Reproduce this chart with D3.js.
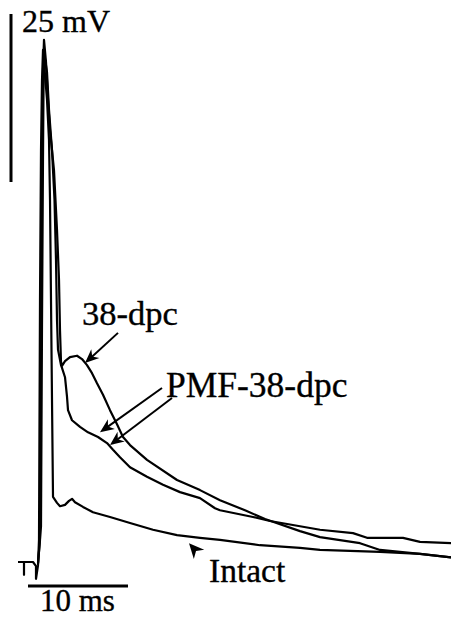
<!DOCTYPE html>
<html>
<head>
<meta charset="utf-8">
<script src="https://cdn.jsdelivr.net/npm/d3@7/dist/d3.min.js"></script>
<style>
  html, body { margin: 0; padding: 0; background: #fff; }
  svg { display: block; }
  text { font-family: "Liberation Serif", "Times New Roman", serif; fill: #000; stroke: #000; stroke-width: 0.35px; }
</style>
</head>
<body>
<script>
// Action potentials recorded after stimulation: time in ms, membrane potential in mV
// (relative to resting level).

// Intact
const intactTime = [-2.0, -1.4, -1.4, -1.4, -0.5, -0.2, -0.2, 0.0, 0.1, 0.2, 0.3, 0.4, 0.5,
  0.7, 0.9, 1.1, 1.2, 1.3, 1.4, 1.5, 1.9, 2.2, 2.7, 3.1, 3.4, 3.7, 4.5, 5.5, 7.2, 9.2,
  11.5, 13.9, 16.2, 18.2, 22.2, 26.2, 28.2, 34.2, 38.2, 41.3];
const intactMV = [-0.3, -0.3, -2.2, -0.3, -0.3, -0.9, -2.8, -0.8, 3.0, 38.7, 61.0, 71.4, 75.9,
  72.2, 68.5, 62.5, 53.6, 38.7, 23.8, 9.4, 8.5, 8.0, 8.2, 8.8, 9.1, 8.6, 7.9, 7.1, 6.4, 5.5,
  4.5, 3.7, 3.3, 3.0, 2.2, 1.8, 1.5, 1.2, 0.9, 0.4];

// 38-dpc
const dpc38Time = [0.0, 0.2, 0.3, 0.4, 0.5, 0.6, 0.8, 1.0, 1.2, 1.6, 1.9, 2.1, 2.2, 2.3, 2.4,
  2.7, 3.2, 3.9, 4.4, 4.9, 5.4, 5.9, 6.5, 7.2, 7.9, 8.5, 9.2, 10.9, 13.9, 16.2, 18.2, 20.7,
  22.7, 26.2, 28.2, 32.2, 34.2, 38.2, 41.3];
const dpc38MV = [-0.5, 3.0, 40.0, 62.0, 73.0, 77.4, 74.1, 68.5, 64.0, 58.0, 49.1, 41.7, 34.2,
  29.5, 28.9, 29.6, 30.2, 30.4, 29.9, 29.0, 27.8, 26.3, 24.6, 22.3, 20.2, 18.3, 17.1, 14.9,
  11.9, 10.4, 8.9, 7.4, 6.1, 4.3, 3.4, 2.5, 1.5, 0.9, 0.4];

// PMF-38-dpc
const pmfTime = [0.0, 0.3, 0.4, 0.5, 0.55, 0.65, 0.9, 1.1, 1.4, 1.65, 1.8, 1.9, 2.0, 2.3,
  2.4, 2.7, 2.9, 3.0, 3.4, 4.2, 5.0, 6.0, 6.9, 7.5, 8.2, 9.2, 10.9, 12.5, 14.2, 16.2, 17.7,
  18.2, 21.5, 23.2, 28.2, 31.5, 32.9, 36.5, 38.2, 41.3];
const pmfMV = [-0.5, 5.0, 35.0, 60.0, 70.0, 75.1, 72.6, 67.0, 61.0, 53.6, 44.6, 35.7, 31.3,
  29.0, 28.6, 27.2, 24.3, 22.3, 20.8, 19.8, 19.0, 18.3, 17.4, 16.4, 15.3, 13.8, 12.4, 11.2,
  10.1, 9.2, 7.7, 7.4, 6.4, 5.8, 4.5, 4.0, 3.3, 3.3, 2.7, 2.5];

// Calibration bars
const scaleBarLabels = ["25 mV", "10 ms"];
const scaleBarSizes = [25, 10];   // mV, ms

const traceNames = ["Intact", "38-dpc", "PMF-38-dpc"];

const W = 451, H = 617;
const x = d3.scaleLinear().domain([-3.8, 41.3]).range([0, W]);
const y = d3.scaleLinear().domain([-8.482, 83.333]).range([H, 0]);

const svg = d3.select("body").append("svg")
  .attr("width", W).attr("height", H)
  .attr("viewBox", `0 0 ${W} ${H}`);

const line = d3.line().x(d => x(d[0])).y(d => y(d[1]));

const traces = [
  d3.zip(intactTime, intactMV),
  d3.zip(dpc38Time, dpc38MV),
  d3.zip(pmfTime, pmfMV)
];

svg.append("g").selectAll("path")
  .data(traces)
  .join("path")
  .attr("d", line)
  .attr("fill", "none")
  .attr("stroke", "#000")
  .attr("stroke-width", 2.2)
  .attr("stroke-linejoin", "round");

// Vertical calibration bar (25 mV)
const vbarT = -2.7, vbarTop = 81.25;
svg.append("line")
  .attr("x1", x(vbarT)).attr("x2", x(vbarT))
  .attr("y1", y(vbarTop)).attr("y2", y(vbarTop - scaleBarSizes[0]))
  .attr("stroke", "#000").attr("stroke-width", 3);
svg.append("text")
  .attr("x", 22).attr("y", 32)
  .attr("font-size", 32)
  .text(scaleBarLabels[0]);

// Horizontal calibration bar (10 ms)
const hbarStart = -1.0, hbarV = -3.87;
svg.append("line")
  .attr("x1", x(hbarStart)).attr("x2", x(hbarStart + scaleBarSizes[1]))
  .attr("y1", y(hbarV)).attr("y2", y(hbarV))
  .attr("stroke", "#000").attr("stroke-width", 3);
svg.append("text")
  .attr("x", 40).attr("y", 611)
  .attr("font-size", 31)
  .text(scaleBarLabels[1]);

// Arrow helper: shaft from tail to tip with a filled, notched head
function arrowHead(tipX, tipY, ang, len, half) {
  const c = Math.cos(ang), s = Math.sin(ang);
  const bx = tipX - c * len, by = tipY - s * len;
  const nx = tipX - c * len * 0.7, ny = tipY - s * len * 0.7;
  const p = [
    [tipX, tipY],
    [bx - s * half, by + c * half],
    [nx, ny],
    [bx + s * half, by - c * half]
  ];
  svg.append("path")
    .attr("d", "M" + p.map(q => q.join(",")).join("L") + "Z")
    .attr("fill", "#000");
}
function arrow(t0, v0, t1, v1) {
  const x0 = x(t0), y0 = y(v0), x1 = x(t1), y1 = y(v1);
  const ang = Math.atan2(y1 - y0, x1 - x0);
  svg.append("line")
    .attr("x1", x0).attr("y1", y0)
    .attr("x2", x1 - Math.cos(ang) * 8).attr("y2", y1 - Math.sin(ang) * 8)
    .attr("stroke", "#000").attr("stroke-width", 2);
  arrowHead(x1, y1, ang, 14, 6);
}

// Labels
svg.append("text").attr("x", 82).attr("y", 325).attr("font-size", 34.5).text(traceNames[1]);
arrow(8.0, 33.8, 4.7, 29.3);

svg.append("text").attr("x", 166).attr("y", 397).attr("font-size", 35.5).text(traceNames[2]);
arrow(12.4, 25.6, 6.2, 19.0);
arrow(13.4, 24.1, 7.2, 17.1);

svg.append("text").attr("x", 209).attr("y", 582).attr("font-size", 33.5).text(traceNames[0]);
arrowHead(x(15.1), y(2.5), Math.atan2(-1, -0.9), 15, 7);
</script>
</body>
</html>
